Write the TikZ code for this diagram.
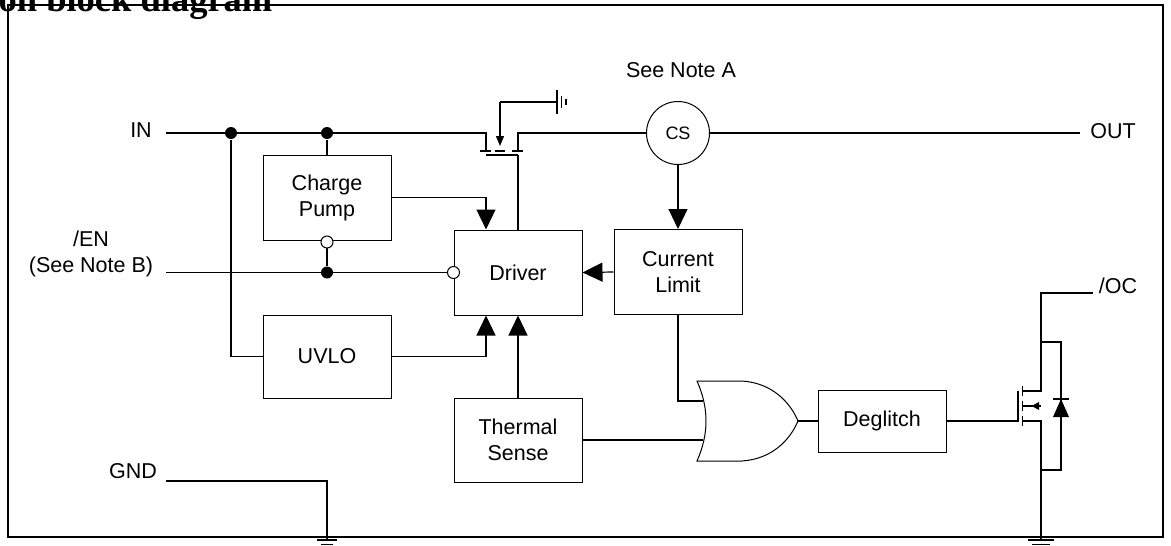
\documentclass[tikz,border=0pt]{standalone}
\usepackage{fontspec}
\setmainfont{Liberation Sans}
\newfontfamily\titlefont{Liberation Serif}
\usetikzlibrary{arrows.meta}

\begin{document}
\begin{tikzpicture}[x=1pt,y=-1pt,line width=1.2pt,
  every node/.style={font=\fontsize{21.5}{26}\selectfont},
  block/.style={draw,line width=1pt,minimum width=128pt,minimum height=85pt,align=center,inner sep=0pt},
  dot/.style={circle,fill,inner sep=0pt,minimum size=12pt},
  hole/.style={circle,draw,line width=1pt,fill=white,inner sep=0pt,minimum size=12pt},
  flow/.style={-{Triangle[length=20pt,width=19pt]}},
  small flow/.style={-{Triangle[length=10pt,width=8pt]}}]
\useasboundingbox (0,0) rectangle (1171,546);
\clip (0,0) rectangle (1171,546);
\node[anchor=base east,inner sep=0pt,font=\titlefont\bfseries\fontsize{36.5}{40}\selectfont] (title) at (273,12) {on block diagram};
\draw[line width=2pt] (8,5) rectangle (1163,537);
\node[block] (cp) at (327,197.5) {Charge\\Pump};
\node[block] (drv) at (518,272.5) {Driver};
\node[block] (cl) at (678,272) {Current\\Limit};
\node[block,minimum height=83pt] (uvlo) at (327,356.5) {UVLO};
\node[block,minimum height=84pt] (ts) at (518,440) {Thermal\\Sense};
\node[block,minimum height=62pt] (dg) at (882,421) {Deglitch};
\node[circle,draw,line width=1pt,minimum size=63pt,inner sep=0pt,font=\fontsize{18}{21}\selectfont] (cs) at (678,133) {CS};
\node (lin) at (141,130) {IN};
\node[align=center] (len) at (91,253.5) {/EN\\(See Note B)};
\node (lgnd) at (133,471) {GND};
\node (lout) at (1113,131) {OUT};
\node (loc) at (1118,286) {/OC};
\node (lnote) at (681,70) {See Note A};
\coordinate (in) at (166,133);
\coordinate (en) at (166,272.5);
\coordinate (gnd) at (166,481);
\coordinate (out) at (1080,133);
\coordinate (oc) at (1093,293);
\coordinate (src) at (486,151);
\coordinate (drn) at (518,151);
\coordinate (gt) at (518,155);
\coordinate (bd) at (500,146);
\coordinate (ora) at (703,401);
\coordinate (orb) at (703,440);
\coordinate (ory) at (798,421);
\coordinate (ng) at (1018,421);
\node[dot] (j1) at (231,133) {};
\node[dot] (j2) at (327,133) {};
\node[dot] (j3) at (327,272.5) {};
\draw[line width=1.5pt] (in) -| (src);
\draw (j1) |- (uvlo.west);
\draw (j2) -- (cp.north);
\draw (cp.south) -- (j3);
\draw (en) -- (drv.west);
\draw[flow] (cp.east) -| ([xshift=-32pt]drv.north);
\draw[flow] (uvlo.east) -| ([xshift=-32pt]drv.south);
\draw[flow] (ts.north) -- (drv.south);
\draw[flow] (cl.west) -- (drv.east);
\draw[flow] (cs.south) -- (cl.north);
\draw (drn) |- (cs.west);
\draw (cs.east) -- (out);
\draw (gt) -- (drv.north);
\draw (480,151) -- (491,151) (495,151) -- (505,151) (512,151) -- (523,151);
\draw (486,155) -- (gt);
\draw[small flow] (500,102) -- (bd);
\draw (500,102) -- (557,102);
\draw (557,90) -- (557,114) (561.5,96) -- (561.5,108) (566,99) -- (566,105);
\node[hole] (cpo) at (327,242) {};
\node[hole] (eno) at (drv.west) {};
\draw[line width=1pt] (697,381) -- (742,381) .. controls (772,383) and (790,402) .. (ory) .. controls (790,440) and (772,459) .. (742,461) -- (697,461) .. controls (709,434) and (709,408) .. cycle;
\draw (cl.south) |- (ora);
\draw (ts.east) -- (orb);
\draw (ory) -- (dg.west);
\draw (dg.east) -- (ng) -- (1018,391);
\draw (1022.5,386) -- (1022.5,396) (1022.5,401) -- (1022.5,411) (1022.5,416) -- (1022.5,426);
\draw (1022.5,391) -- (1041,391) -- (1041,293) -- (oc);
\draw (1022.5,421) -- (1041,421) -- (1041,540);
\draw (1041,406) -- (1023,406);
\fill (1031.5,406) -- (1039,402) -- (1039,410) -- cycle;
\draw (1041,342) -- (1061,342) -- (1061,470) -- (1041,470);
\fill (1061,399) -- (1053,417) -- (1069,417) -- cycle;
\draw (1053,399) -- (1069,399);
\draw (gnd) -| (327,540);
\draw (317,540) -- (337,540) (321,544.5) -- (333,544.5);
\draw (1028,540) -- (1054,540) (1032,544.5) -- (1050,544.5);
\end{tikzpicture}
\end{document}
